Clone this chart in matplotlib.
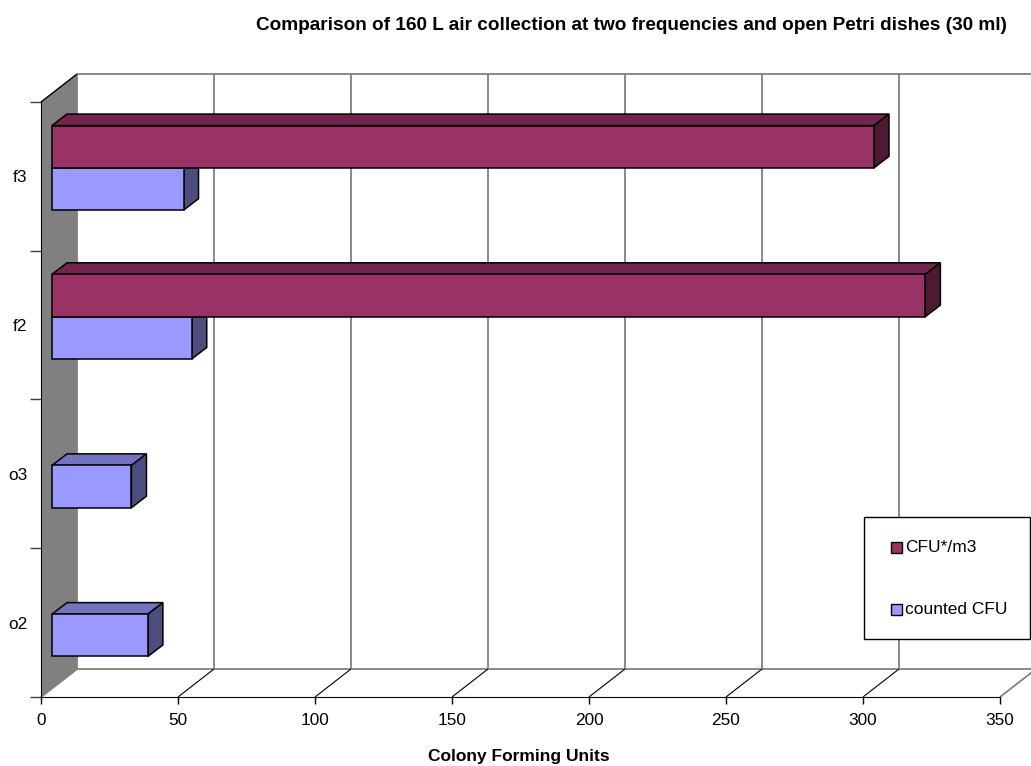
import numpy as np
import matplotlib
matplotlib.use("Agg")
import matplotlib.pyplot as plt
from matplotlib.patches import Polygon, Rectangle

plt.rcParams['font.family'] = ['Liberation Sans', 'DejaVu Sans']

# ---- data ----
categories = ['o2', 'o3', 'f2', 'f3']
counted_cfu = [35, 29, 51, 48]
cfu_per_m3 = [np.nan, np.nan, 318.75, 300]
x_ticks = [0, 50, 100, 150, 200, 250, 300, 350]
series_names = ['CFU*/m3', 'counted CFU']

title = 'Comparison of 160 L air collection at two frequencies and open Petri dishes (30 ml)'
xlabel = 'Colony Forming Units'

# ---- styling ----
maroon = {'front': '#993366', 'top': '#73264D', 'side': '#4D1A33'}
blue = {'front': '#9999FF', 'top': '#7373BF', 'side': '#4D4D80'}
grid_gray = '#808080'
wall_gray = '#808080'

W, H, DPI = 1031, 766, 100
fig = plt.figure(figsize=(W / DPI, H / DPI), dpi=DPI)
ax = fig.add_axes([41 / W, (H - 697) / H, 959 / W, 595 / H])
ax.set_xlim(0, 350)
ax.set_ylim(0, len(categories))

# depth vectors (in points) for the pseudo-3D box and bars
PT = DPI / 72.0
wall_depth = (36 / PT, 28 / PT)
bar_front = (11 / PT, 8.5 / PT)
bar_back = (26 / PT, 20 / PT)
bar_h = 0.2845


def shift(x, y, off):
    """Move a data point by an offset given in points, return data coords."""
    px, py = ax.transData.transform((x, y))
    return ax.transData.inverted().transform((px + off[0] * PT, py + off[1] * PT))


def poly(pts, **kw):
    p = Polygon(pts, closed=True, **kw)
    p.set_clip_on(False)
    ax.add_patch(p)
    return p


def line(p0, p1, **kw):
    l, = ax.plot([p0[0], p1[0]], [p0[1], p1[1]], clip_on=False,
                 solid_capstyle='butt', **kw)
    return l


ytop = len(categories)

# back wall gridlines and frame
for xv in x_ticks:
    line(shift(xv, 0, wall_depth), shift(xv, ytop, wall_depth), color=grid_gray, lw=1.3, zorder=1)
line(shift(0, ytop, wall_depth), shift(350, ytop, wall_depth), color=grid_gray, lw=1.3, zorder=1)
line(shift(0, 0, wall_depth), shift(350, 0, wall_depth), color=grid_gray, lw=1.3, zorder=1)

# floor lines
for xv in x_ticks:
    c = 'black' if 0 < xv < 350 else grid_gray
    lw = 0.8 if 0 < xv < 350 else 1.3
    line((xv, 0), shift(xv, 0, wall_depth), color=c, lw=lw, zorder=1.5)

# left wall
poly([(0, 0), (0, ytop), shift(0, ytop, wall_depth), shift(0, 0, wall_depth)],
     facecolor=wall_gray, edgecolor='none', zorder=2)
line((0, ytop), shift(0, ytop, wall_depth), color='black', lw=1.0, zorder=2.5)
line((0, 0), shift(0, 0, wall_depth), color=grid_gray, lw=1.0, zorder=2.5)


def bar3d(value, y0, colors, z):
    if not np.isfinite(value):
        return
    f0 = shift(0, y0, bar_front)
    f1 = shift(value, y0 + bar_h, bar_front)
    b0 = shift(0, y0, bar_back)
    b1 = shift(value, y0 + bar_h, bar_back)
    ek = dict(edgecolor='black', linewidth=1.1, joinstyle='miter')
    # top face
    poly([(f0[0], f1[1]), (f1[0], f1[1]), (b1[0], b1[1]), (b0[0], b1[1])],
         facecolor=colors['top'], zorder=z, **ek)
    # side face
    poly([(f1[0], f0[1]), (f1[0], f1[1]), (b1[0], b1[1]), (b1[0], b0[1])],
         facecolor=colors['side'], zorder=z, **ek)
    # front face
    poly([(f0[0], f0[1]), (f1[0], f0[1]), (f1[0], f1[1]), (f0[0], f1[1])],
         facecolor=colors['front'], zorder=z + 0.1, **ek)


for i, cat in enumerate(categories):
    center = i + 0.5
    bar3d(counted_cfu[i], center - bar_h, blue, 3 + i * 0.5)
    bar3d(cfu_per_m3[i], center, maroon, 3.2 + i * 0.5)

# axes, ticks and labels
for s in ['top', 'right']:
    ax.spines[s].set_visible(False)
ax.spines['left'].set_color('black')
ax.spines['bottom'].set_color('black')
ax.spines['left'].set_zorder(2.6)
ax.spines['bottom'].set_zorder(2.6)
ax.patch.set_visible(False)

ax.set_xticks(x_ticks)
ax.set_xticklabels([str(v) for v in x_ticks], fontsize=12.4)
ax.tick_params(axis='x', direction='out', length=5.2, width=1, color='black', pad=6.5)

ax.set_yticks(range(len(categories) + 1))
ax.set_yticklabels([])
ax.tick_params(axis='y', which='major', direction='out', length=8, width=1, color='#404040')
ax.set_yticks([i + 0.5 for i in range(len(categories))], minor=True)
ax.set_yticklabels(categories, minor=True, fontsize=12.4)
ax.tick_params(axis='y', which='minor', length=0, pad=10)

fig.text(632 / W, 1 - 25 / H, title, ha='center', va='center',
         fontsize=13.7, fontweight='bold')
fig.text(519 / W, 1 - 756 / H, xlabel, ha='center', va='center',
         fontsize=12.5, fontweight='bold')

# legend box
ft = fig.transFigure
fig.add_artist(Rectangle((864 / W, 1 - 639 / H), (1030 - 864) / W, 122 / H,
                         transform=ft, facecolor='white', edgecolor='black', lw=1.0, zorder=10))
for (yc, name, col) in [(547, series_names[0], maroon['front']),
                        (609, series_names[1], blue['front'])]:
    fig.add_artist(Rectangle((891 / W, 1 - (yc + 5.5) / H), 10.5 / W, 11 / H,
                             transform=ft, facecolor=col, edgecolor='black', lw=1.0, zorder=11))
    fig.text(905 / W, 1 - yc / H, name, ha='left', va='center', fontsize=12.5, zorder=11)

fig.savefig('out.png', dpi=DPI)
